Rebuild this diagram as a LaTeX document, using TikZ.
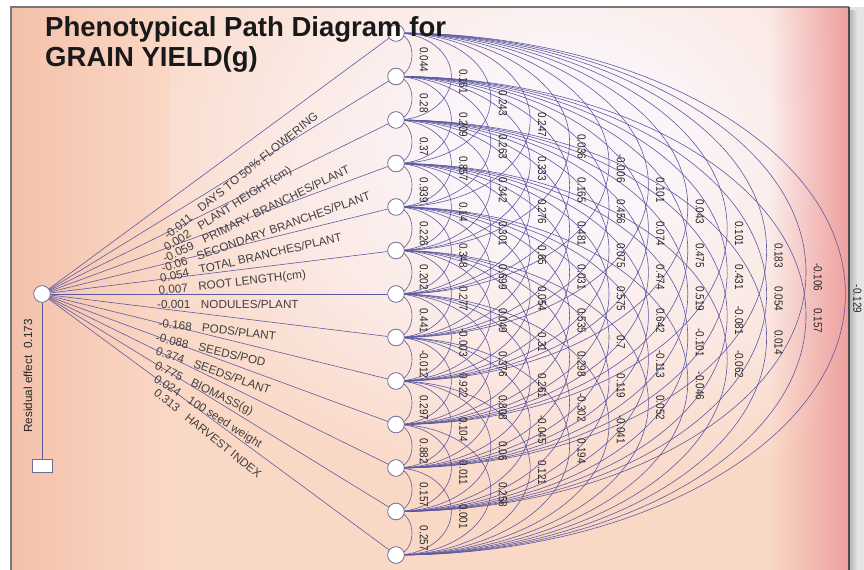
\documentclass[tikz,border=0pt]{standalone}
\usepackage{fontspec}
\setmainfont{Liberation Sans}
\newfontfamily\narrowfont[FakeStretch=0.85]{Liberation Sans}
\usetikzlibrary{fadings,backgrounds}

\definecolor{pathline}{RGB}{92,88,160}
\definecolor{circline}{RGB}{110,108,150}
\definecolor{peach}{RGB}{250,216,198}
\definecolor{salmon}{RGB}{242,186,162}
\definecolor{rosy}{RGB}{238,160,160}
\definecolor{glowcore}{RGB}{251,245,249}
\definecolor{framegray}{RGB}{120,120,120}
\definecolor{shadowgray}{RGB}{228,228,228}

\pgfdeclareradialshading{glow}{\pgfpoint{0bp}{0bp}}{%
  color(0bp)=(glowcore); color(6bp)=(glowcore); color(16bp)=(peach!45!glowcore); color(25bp)=(peach); color(50bp)=(peach)}

\tikzset{
  var/.style={circle, draw=circline, fill=white, line width=0.7pt, minimum size=0.5cm, inner sep=0pt},
  resbox/.style={rectangle, draw=circline, fill=white, line width=0.7pt, minimum width=0.6cm, minimum height=0.39cm, inner sep=0pt},
  corr/.style={draw=pathline, line width=0.5pt},
  coef/.style={font=\narrowfont\fontsize{10}{12}\selectfont, text=black!85, inner sep=0pt, rotate=-90},
  trait/.style={font=\fontsize{10}{12}\selectfont, text=black!75, inner sep=0pt, anchor=base west},
  title/.style={font=\bfseries\fontsize{23.5}{28}\selectfont, text=black!90, anchor=base west, inner sep=0pt}
}

\begin{document}
\begin{tikzpicture}[x=0.03cm, y=-0.03cm]
    \useasboundingbox (0,0) rectangle (864,570);

    % variables
    \node [var] (root) at (42,294) {};
    \node [resbox] (sq) at (42,466) {};
    \foreach \i in {1,...,13}
        \node [var] (v\i) at (396,{33+(\i-1)*43.5}) {};

    % page, shadow and panel
    \begin{scope}[on background layer]
        \fill [white] (0,0) rectangle (864,570);
        \fill [shadowgray] (849,7) rectangle (864,570);
        \fill [black!30, path fading=east] (849,10) rectangle (857,570);
        \begin{scope}
            \clip (11,7) rectangle (849,575);
            \fill [peach] (11,7) rectangle (849,575);
            \shade [shading=glow] (110,-200) rectangle (1010,500);
            \shade [left color=salmon, right color=peach] (-40,7) rectangle (170,575);
            \fill [rosy, path fading=west] (770,7) rectangle (849,575);
        \end{scope}
        \draw [framegray, line width=1.2pt] (11,570) -- (11,7) -- (849,7);
        \draw [black!70, line width=1.5pt] (849,7) -- (849,570);
    \end{scope}

    \draw [corr] (root) -- (sq);
    \foreach \i in {1,...,13}
        \draw [corr] (root) -- (v\i);

    % correlation arcs
    \begin{scope}[on background layer]
        \foreach \k in {1,...,12} {
            \pgfmathtruncatemacro\last{13-\k}
            \pgfmathsetmacro\a{16+(\k-1)*39.4}
            \pgfmathsetmacro\b{\k*21.75}
            \foreach \i in {1,...,\last}
                \draw [corr] (v\i.center) arc [start angle=-90, end angle=90, x radius=\a, y radius=\b];
        }
    \end{scope}

    % correlation values
    \foreach \k/\vals in {
        1/{0.044,0.28,0.37,0.939,0.226,0.202,0.441,-0.012,0.297,0.882,0.157,0.257},
        2/{0.161,0.209,0.857,0.14,0.348,0.277,-0.003,0.922,0.104,0.011,0.001},
        3/{0.243,0.263,0.342,0.301,0.699,0.049,0.376,0.808,0.06,0.258},
        4/{0.247,0.333,0.276,0.65,0.054,0.31,0.261,-0.045,0.121},
        5/{0.036,0.165,0.481,0.031,0.535,0.298,-0.302,0.194},
        6/{-0.006,0.456,0.075,0.575,0.7,0.119,-0.041},
        7/{0.101,0.074,0.474,0.642,-0.113,0.052},
        8/{0.043,0.475,0.519,-0.101,-0.046},
        9/{0.101,0.431,-0.081,-0.062},
        10/{0.183,0.054,0.014},
        11/{-0.106,0.157},
        12/{-0.129}} {
        \foreach \r [count=\i] in \vals
            \node [coef] (r\k-\i) at ({424+(\k-1)*39.4},{38+(\i-1)*43.5+\k*21.75}) {\r};
    }

    % direct effects
    \foreach \i/\x/\y/\val/\name in {
        1/168/240/-0.011/{DAYS TO 50\% FLOWERING},
        2/167/252/0.002/{PLANT HEIGHT(cm)},
        3/165/263/-0.059/{PRIMARY BRANCHES/PLANT},
        4/163/273/-0.06/{SECONDARY BRANCHES/PLANT},
        5/161/283/0.054/{TOTAL BRANCHES/PLANT},
        6/159/295/0.007/{ROOT LENGTH(cm)},
        7/157/309/-0.001/{NODULES/PLANT},
        8/158/327/-0.168/{PODS/PLANT},
        9/155/341/-0.088/{SEEDS/POD},
        10/155/354/0.374/{SEEDS/PLANT},
        11/154/368/0.775/{BIOMASS(g)},
        12/153/381/0.024/{100 seed weight},
        13/153/394/0.313/{HARVEST INDEX}}
        \node [trait, rotate={6.5*(7-\i)}] (t\i) at (\x,\y) {\val\hspace{0.9em}\name};

    \node [trait, anchor=center, rotate=90, text=black!85] (reslab) at (28,376) {Residual effect\hspace{0.6em}0.173};

    % heading
    \node [title] (head1) at (45,37) {Phenotypical Path Diagram for};
    \node [title] (head2) at (45,67) {GRAIN YIELD(g)};
\end{tikzpicture}
\end{document}
